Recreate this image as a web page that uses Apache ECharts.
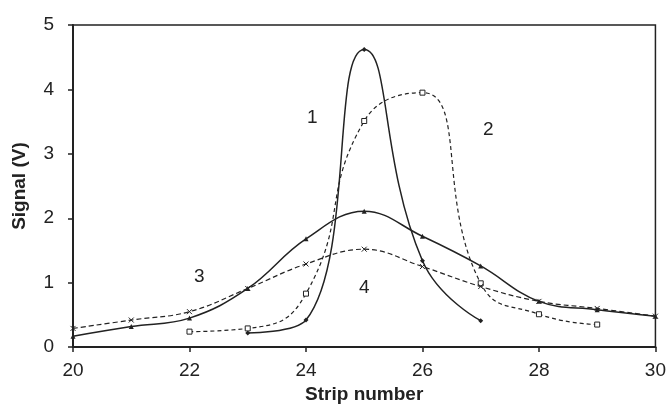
<!DOCTYPE html>
<html><head><meta charset="utf-8">
<script src="https://cdn.jsdelivr.net/npm/echarts@6/dist/echarts.min.js"></script>
<style>html,body{margin:0;padding:0;background:#fff}#c{width:669px;height:409px}</style>
</head><body><div id="c"></div>
<script>
const xTicks = [20, 22, 24, 26, 28, 30];
const yTicks = [0, 1, 2, 3, 4, 5];
const s1x = [23, 24, 25, 26, 27];
const s1y = [0.22, 0.42, 4.62, 1.34, 0.41];
const s2x = [22, 23, 24, 25, 26, 27, 28, 29];
const s2y = [0.24, 0.29, 0.83, 3.51, 3.95, 0.99, 0.51, 0.35];
const s3x = [20, 21, 22, 23, 24, 25, 26, 27, 28, 29, 30];
const s3y = [0.17, 0.32, 0.45, 0.91, 1.68, 2.11, 1.72, 1.26, 0.71, 0.58, 0.48];
const s4x = [20, 21, 22, 23, 24, 25, 26, 27, 28, 29, 30];
const s4y = [0.29, 0.42, 0.55, 0.91, 1.29, 1.52, 1.25, 0.94, 0.71, 0.6, 0.48];
const labels = [{t:'1', x:307, y:108}, {t:'2', x:483, y:120}, {t:'3', x:194, y:267}, {t:'4', x:359, y:278}];

const zip = (a, b) => a.map((v, i) => [v, b[i]]);
const chart = echarts.init(document.getElementById('c'));
const ink = '#222';
const font = 'Liberation Sans, Arial, sans-serif';
chart.setOption({
  animation: false,
  grid: {left: 73, right: 12, top: 25, bottom: 60, show: true, borderColor: ink, borderWidth: 1.5},
  xAxis: {
    type: 'value', min: 20, max: 30, interval: 2,
    name: 'Strip number', nameLocation: 'middle', nameGap: 37,
    nameTextStyle: {fontFamily: font, fontSize: 19, fontWeight: 'bold', color: ink},
    axisLine: {lineStyle: {color: ink, width: 2}},
    axisTick: {show: true, length: 5, lineStyle: {color: ink, width: 1.5}},
    axisLabel: {fontFamily: font, fontSize: 19, color: ink, margin: 14},
    splitLine: {show: false}
  },
  yAxis: {
    type: 'value', min: 0, max: 5, interval: 1,
    name: 'Signal (V)', nameLocation: 'middle', nameGap: 44, nameRotate: 90,
    nameTextStyle: {fontFamily: font, fontSize: 19, fontWeight: 'bold', color: ink},
    axisLine: {lineStyle: {color: ink, width: 2}},
    axisTick: {show: true, length: 5, lineStyle: {color: ink, width: 1.5}},
    axisLabel: {fontFamily: font, fontSize: 19, color: ink, margin: 19},
    splitLine: {show: false}
  },
  series: [
    {type: 'line', data: zip(s1x, s1y), smooth: 0.5, symbol: 'diamond', symbolSize: 5,
     lineStyle: {color: ink, width: 1.5}, itemStyle: {color: ink}},
    {type: 'line', data: zip(s2x, s2y), smooth: 0.5, symbol: 'rect', symbolSize: 5,
     lineStyle: {color: ink, width: 1.2, type: [4, 3]}, itemStyle: {color: '#fff', borderColor: ink, borderWidth: 1}},
    {type: 'line', data: zip(s3x, s3y), smooth: 0.4, symbol: 'triangle', symbolSize: 5,
     lineStyle: {color: ink, width: 1.5}, itemStyle: {color: ink}},
    {type: 'line', data: zip(s4x, s4y), smooth: 0.4, symbol: 'path://M0,0L10,10M10,0L0,10', symbolSize: 5,
     lineStyle: {color: ink, width: 1.2, type: [5, 3]}, itemStyle: {color: ink, borderColor: ink, borderWidth: 1}}
  ],
  graphic: labels.map(l => ({type: 'text', left: l.x, top: l.y,
    style: {text: l.t, fontFamily: font, fontSize: 19, fill: ink}}))
});
</script></body></html>
